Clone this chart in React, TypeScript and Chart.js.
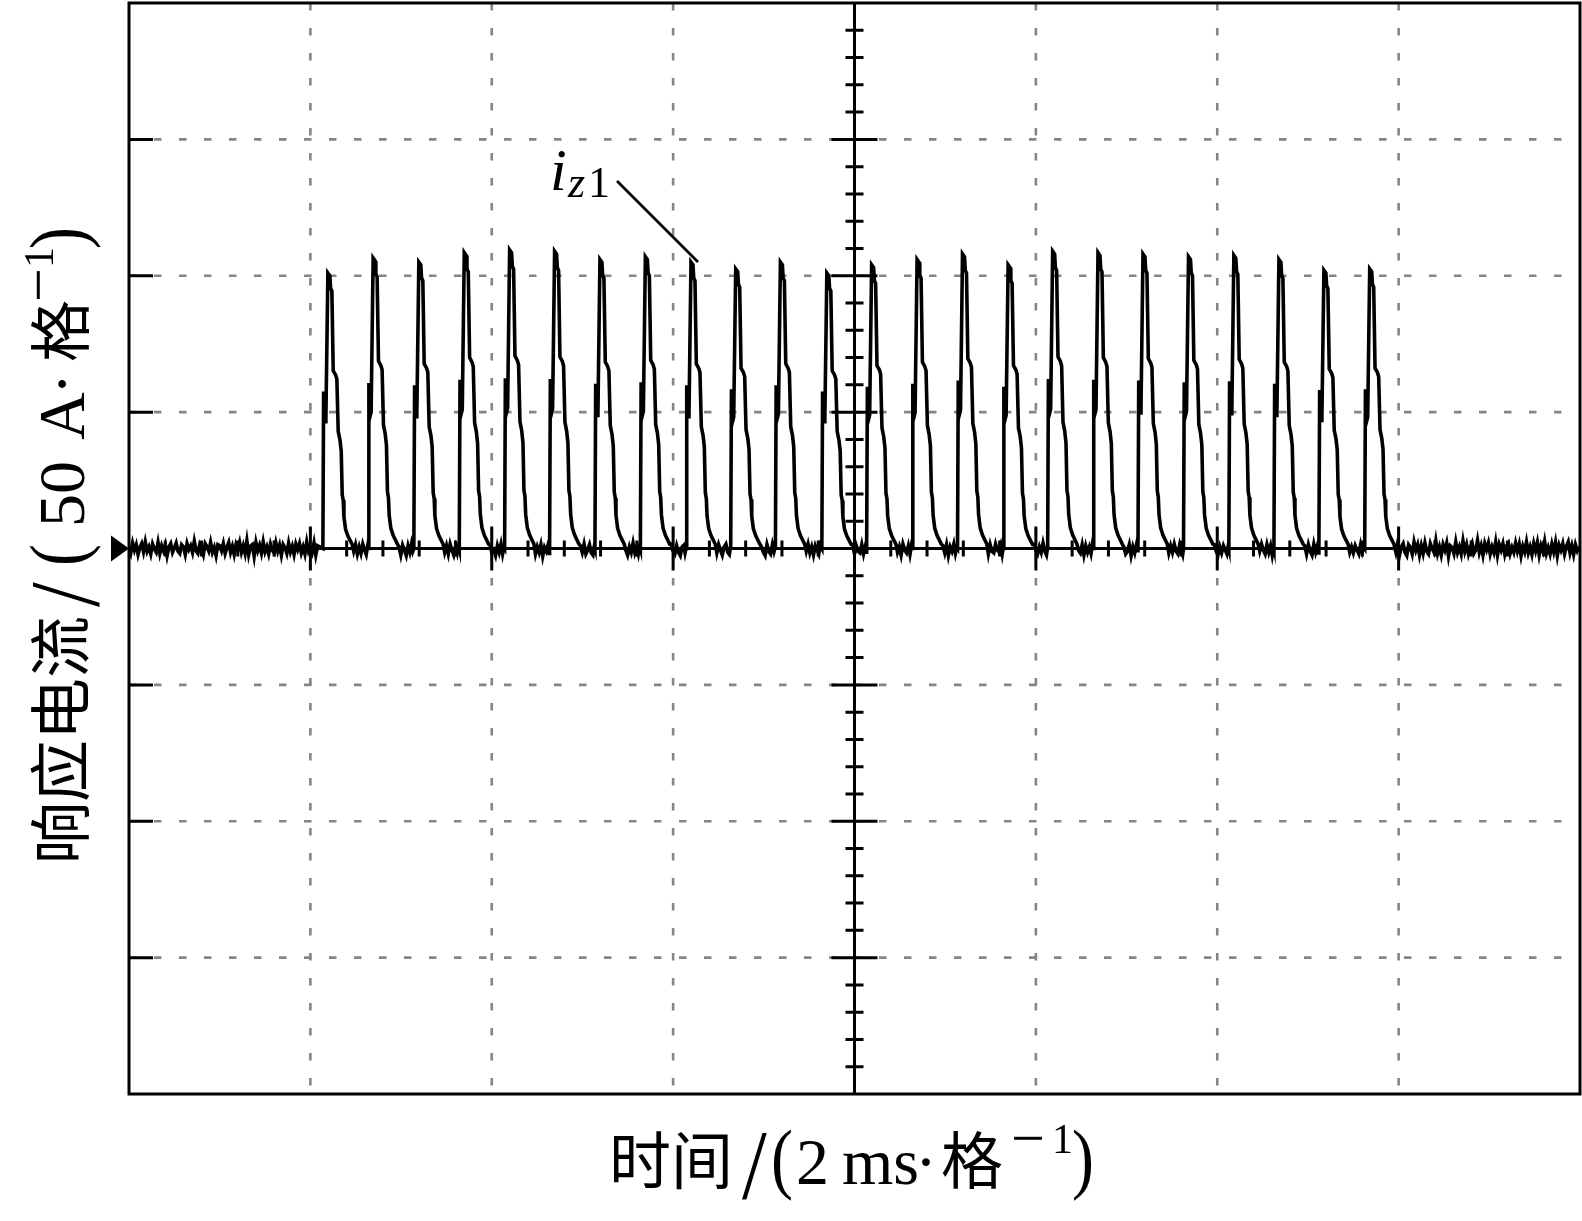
import React, { useEffect, useRef } from "react";
import { Chart, registerables } from "chart.js";

Chart.register(...registerables);

// ---- axis ranges (time in ms, current in A; 2 ms/div, 50 A/div) ----
const X_MIN = 0;
const X_MAX = 16;
const Y_MIN = -200;
const Y_MAX = 200;
const xGridMs = [2, 4, 6, 8, 10, 12, 14];
const yGridA = [-150, -100, -50, 50, 100, 150];

// ---- pulse train ----
const pulseStarts = [
  2.138, 2.637, 3.141, 3.642, 4.142, 4.638, 5.138, 5.639, 6.142, 6.635, 7.128, 7.64,
  8.134, 8.635, 9.136, 9.639, 10.13, 10.63, 11.126, 11.628, 12.128, 12.625, 13.121, 13.626,
];
const pulsePeaks = [
  101, 106.5, 105, 108.5, 109.5, 109, 106, 107, 105, 102.5, 105, 101,
  104, 106, 108, 104, 109, 108.5, 108, 107, 107.5, 106, 102, 102.5,
];
// shape of one pulse: time after rise (ms) and level as a fraction of its peak
const pulseDt = [
  0, 0.008, 0.014, 0.025, 0.033, 0.055, 0.077, 0.085, 0.099, 0.114, 0.14,
  0.154, 0.169, 0.188, 0.202, 0.213, 0.224, 0.232, 0.25, 0.276, 0.323,
];
const pulseLevel = [
  0, 0.57, 0.55, 0.46, 0.47, 1.0, 0.99, 0.945, 0.935, 0.645, 0.63,
  0.615, 0.425, 0.395, 0.355, 0.195, 0.175, 0.115, 0.07, 0.045, 0.015,
];
// baseline ripple between pulses (A), sampled at gapDt after each rise
const gapDt = [0.34, 0.36, 0.38, 0.4, 0.42, 0.44, 0.46, 0.478, 0.493];
const gapNoise = [
  [-1.0, 1.4, -2.0, 0.6, -1.8, 1.6, -0.6, -2.2, 0.8],
  [0.6, -2.4, 1.2, -0.6, -2.6, 1.0, -1.4, 1.6, -1.0],
  [-1.4, 1.0, -2.0, 1.6, -0.6, -2.4, 0.6, -1.6, 1.2],
  [1.2, -1.6, -0.6, -2.6, 1.0, -1.4, 1.6, -2.0, 0.4],
  [-2.0, 0.6, -1.4, 1.4, -2.8, 0.4, -1.0, 1.2, -1.8],
  [1.0, -1.4, 1.6, -2.0, -0.6, 1.4, -1.6, -2.4, 0.8],
  [-0.6, -2.4, 0.6, -1.4, 2.0, -1.6, 0.4, -2.0, 1.0],
  [1.6, -1.0, -2.0, 1.0, -1.4, -2.6, 0.6, 1.2, -1.6],
  [-1.6, 1.4, -0.6, -2.4, 0.6, 1.6, -1.4, -2.2, 0.8],
  [0.6, -1.4, -2.6, 1.4, -1.0, -2.0, 1.4, -1.2, 0.6],
  [-1.0, 1.6, -1.6, 0.6, -2.4, 1.0, -0.6, -2.0, 1.2],
  [1.4, -2.0, 1.0, -1.0, -1.6, 1.4, -2.0, 0.6, -1.4],
  [-1.4, 0.6, -2.4, 1.6, -0.6, -1.6, 1.0, -2.2, 0.8],
  [1.0, -1.6, 1.4, -2.6, 0.6, -1.0, 1.6, -1.8, 0.4],
  [-2.0, 1.4, -1.0, -1.6, 1.6, -0.6, -1.4, 1.0, -2.0],
  [1.6, -0.6, -2.0, 0.6, -1.4, 2.0, -1.0, -2.4, 1.0],
  [-0.6, -1.6, 1.4, -2.4, 1.0, -1.4, 0.6, -1.8, 1.4],
  [0.6, -2.0, -1.0, 1.4, -2.6, 0.6, -1.6, 1.2, -0.8],
  [-1.6, 1.0, -1.4, 1.6, -1.0, -2.0, 1.4, -0.6, -2.2],
  [1.4, -1.0, -2.4, 0.6, -1.6, 1.0, -0.6, -2.0, 1.0],
  [-1.0, 1.6, -0.6, -2.0, 1.4, -1.4, 1.0, -2.4, 0.6],
  [1.0, -2.0, 1.4, -1.0, -2.4, 1.6, -1.4, 0.8, -1.6],
  [-1.4, 0.6, -1.6, 1.0, -0.6, -2.0, 1.4, -1.2, 0.6],
];
// noisy baseline before and after the burst (A)
const noiseStep = 0.02;
const leftNoiseStart = 0;
const leftNoise = [
  0.8, -1.6, 2.0, -0.6, 1.4, -2.2, 0.4, 1.8, -1.2, 2.4, -1.0, 0.6, -2.0, 1.6, -0.2, -1.4, 2.2, -1.8,
  1.0, -0.8, 1.4, -2.6, 0.6, 1.8, -1.4, 0.2, 2.0, -1.0, -1.8, 1.4, 0.6, -2.2, 1.8, -0.4, 1.0, -1.4,
  2.6, -0.8, -1.8, 1.4, 0.0, -2.2, 1.8, 0.6, -1.0, 2.2, -1.4, 0.4, -2.6, 1.4, 1.0, -0.8, 1.8, -1.8,
  0.4, 2.2, -1.4, 0.8, -2.2, 1.4, -0.4, 2.2, -1.4, 1.0, -1.8, 2.8, -2.2, 0.8, 1.4, -2.8, 2.2, -0.8,
  1.2, -1.6, 2.4, -1.2, 0.6, -2.0, 1.6, -0.6, -1.6, 2.0, -1.0, 1.2, -2.4, 1.4, 0.2, -1.8, 2.0, -1.2,
  0.8, -2.2, 1.6, -0.4, 1.8, -1.6, 0.6, -2.0, 2.4, -1.0, 0.4, -1.4, 2.0, -2.4, 1.0,
];
const rightNoiseStart = 13.97;
const rightNoise = [
  -1.4, 2.0, -2.4, 0.6, 1.8, -1.4, -2.6, 1.4, 0.4, -2.0, 2.4, -0.6, 1.4, -2.4, 1.0, -1.8, 2.0, -1.0,
  -2.0, 1.8, 0.0, -1.4, 2.8, -1.8, 0.6, -2.4, 1.4, -0.6, 2.0, -2.8, 1.0, 0.4, -1.8, 2.4, -1.4, 0.6,
  -2.0, 2.8, -1.0, 1.4, -2.0, 0.4, 2.0, -1.8, -0.6, 3.0, -1.4, 1.0, -2.4, 1.8, -0.4, 2.0, -2.0, 0.6,
  -1.4, 2.4, -2.4, 1.4, -0.6, 1.8, -2.0, 1.0, 2.0, -1.8, 0.4, -1.4, 2.0, -1.0, 1.6, -2.6, 0.8, -1.2,
  2.4, -1.6, 0.6, -2.2, 1.8, -0.8, 2.2, -2.4, 1.0, -1.0, 2.6, -1.8, 0.4, -2.0, 1.6, -1.2, 2.2, -2.6,
  1.2, -0.6, 1.8, -2.0, 0.8, 2.4, -1.6, 1.0, -2.2, 1.4, -0.8, 0.6,
];

const SERIF = '"Liberation Serif", "DejaVu Serif", serif';
const CJK = '"Noto Sans CJK SC", sans-serif';

function buildTrace() {
  const pts: { x: number; y: number }[] = [];
  leftNoise.forEach((v, i) => pts.push({ x: leftNoiseStart + i * noiseStep, y: v }));
  pulseStarts.forEach((t0, p) => {
    pulseDt.forEach((dt, j) => pts.push({ x: t0 + dt, y: pulsePeaks[p] * pulseLevel[j] }));
    if (p < gapNoise.length) gapNoise[p].forEach((v, j) => pts.push({ x: t0 + gapDt[j], y: v }));
  });
  rightNoise.forEach((v, i) => pts.push({ x: rightNoiseStart + i * noiseStep, y: v }));
  return pts;
}

// horizontal text piece, optional stretch
function txt(ctx: CanvasRenderingContext2D, s: string, font: string, x: number, y: number, sx = 1, sy = 1) {
  ctx.save();
  ctx.translate(x, y);
  ctx.scale(sx, sy);
  ctx.font = font;
  ctx.fillText(s, 0, 0);
  ctx.restore();
}

// text piece rotated to read bottom-to-top; bx = baseline x, sy0 = screen y where it starts
function vtxt(ctx: CanvasRenderingContext2D, s: string, font: string, bx: number, sy0: number, sx = 1, sy = 1) {
  ctx.save();
  ctx.translate(bx, sy0);
  ctx.rotate(-Math.PI / 2);
  ctx.scale(sx, sy);
  ctx.font = font;
  ctx.fillText(s, 0, 0);
  ctx.restore();
}

const scopePlugin = {
  id: "scope",
  beforeDatasetsDraw(chart: any) {
    const { ctx, chartArea: a, scales } = chart;
    const x = scales.x;
    const y = scales.y;
    ctx.save();
    // dashed grid
    ctx.strokeStyle = "#858585";
    ctx.lineWidth = 2.6;
    ctx.setLineDash([7.5, 17.5]);
    for (const v of xGridMs) {
      if (v === 8) continue;
      const px = x.getPixelForValue(v);
      ctx.beginPath();
      ctx.moveTo(px, a.top);
      ctx.lineTo(px, a.bottom);
      ctx.stroke();
    }
    for (const v of yGridA) {
      const py = y.getPixelForValue(v);
      ctx.beginPath();
      ctx.moveTo(a.left, py);
      ctx.lineTo(a.right, py);
      ctx.stroke();
    }
    ctx.setLineDash([]);
    // center axes
    ctx.strokeStyle = "#000";
    ctx.lineWidth = 3;
    const cx = x.getPixelForValue(8);
    const cy = y.getPixelForValue(0);
    ctx.beginPath();
    ctx.moveTo(cx, a.top);
    ctx.lineTo(cx, a.bottom);
    ctx.moveTo(a.left, cy);
    ctx.lineTo(a.right, cy);
    ctx.stroke();
    ctx.beginPath();
    for (let k = -19; k <= 19; k++) {
      if (k === 0) continue;
      const py = y.getPixelForValue(k * 10);
      const len = k % 5 === 0 ? 23 : 9;
      ctx.moveTo(cx - len, py);
      ctx.lineTo(cx + len, py);
    }
    for (let k = 1; k < 40; k++) {
      if (k === 20) continue;
      const px = x.getPixelForValue(k * 0.4);
      const len = k % 5 === 0 ? 22 : 8;
      ctx.moveTo(px, cy - len);
      ctx.lineTo(px, cy + len);
    }
    // left frame ticks
    for (const v of yGridA) {
      const py = y.getPixelForValue(v);
      ctx.moveTo(a.left, py);
      ctx.lineTo(a.left + 24, py);
    }
    ctx.stroke();
    ctx.restore();
  },
  afterDatasetsDraw(chart: any) {
    const { ctx, chartArea: a, scales } = chart;
    const y = scales.y;
    ctx.save();
    ctx.strokeStyle = "#000";
    ctx.lineWidth = 3;
    ctx.strokeRect(a.left, a.top, a.right - a.left, a.bottom - a.top);
    // ground marker
    const cy = y.getPixelForValue(0);
    ctx.fillStyle = "#000";
    ctx.beginPath();
    ctx.moveTo(a.left - 18, cy - 13);
    ctx.lineTo(a.left - 18, cy + 13);
    ctx.lineTo(a.left, cy);
    ctx.closePath();
    ctx.fill();
    // trace label and leader
    ctx.textAlign = "left";
    ctx.textBaseline = "alphabetic";
    txt(ctx, "i", `italic 60px ${SERIF}`, 550, 190);
    txt(ctx, "z", `italic 44px ${SERIF}`, 568, 197);
    txt(ctx, "1", `44px ${SERIF}`, 588, 197);
    ctx.lineWidth = 2.6;
    ctx.beginPath();
    ctx.moveTo(617, 181);
    ctx.lineTo(698, 262);
    ctx.stroke();
    // x title
    const by = 1184;
    txt(ctx, "时间", `62px ${CJK}`, 609, by);
    txt(ctx, "/", `66px ${SERIF}`, 742, by + 14, 1.35, 1.5);
    txt(ctx, "(", `66px ${SERIF}`, 771, by, 1, 1.2);
    txt(ctx, "2", `66px ${SERIF}`, 796, by);
    txt(ctx, "ms", `66px ${SERIF}`, 842, by);
    txt(ctx, "·", `66px ${SERIF}`, 915, by);
    txt(ctx, "格", `62px ${CJK}`, 941, by);
    txt(ctx, "−", `60px ${SERIF}`, 1011, by - 26);
    txt(ctx, "1", `42px ${SERIF}`, 1052, by - 31);
    txt(ctx, ")", `66px ${SERIF}`, 1072, by, 1, 1.2);
    // y title (rotated)
    const bx = 84;
    vtxt(ctx, "响应电流", `62px ${CJK}`, bx, 864);
    vtxt(ctx, "/", `66px ${SERIF}`, bx + 14, 607, 1.35, 1.5);
    vtxt(ctx, "(", `66px ${SERIF}`, bx, 566, 1, 1.2);
    vtxt(ctx, "50", `66px ${SERIF}`, bx, 527);
    vtxt(ctx, "A", `66px ${SERIF}`, bx, 440);
    vtxt(ctx, "·", `66px ${SERIF}`, bx, 395);
    vtxt(ctx, "格", `62px ${CJK}`, bx, 362);
    vtxt(ctx, "−", `60px ${SERIF}`, bx - 26, 302);
    vtxt(ctx, "1", `42px ${SERIF}`, bx - 31, 268);
    vtxt(ctx, ")", `66px ${SERIF}`, bx, 249, 1, 1.2);
    ctx.restore();
  },
};

export default function App() {
  const ref = useRef<HTMLCanvasElement>(null);
  useEffect(() => {
    const chart = new Chart(ref.current as HTMLCanvasElement, {
      type: "line",
      data: {
        datasets: [
          {
            data: buildTrace(),
            borderColor: "#000",
            borderWidth: 3.6,
            pointRadius: 0,
            tension: 0,
            fill: false,
          },
        ],
      },
      options: {
        responsive: false,
        devicePixelRatio: 1,
        animation: false,
        events: [],
        layout: { padding: { left: 129, right: 2, top: 3, bottom: 127 } },
        plugins: { legend: { display: false }, tooltip: { enabled: false } },
        scales: {
          x: { type: "linear", min: X_MIN, max: X_MAX, display: false },
          y: { type: "linear", min: Y_MIN, max: Y_MAX, display: false },
        },
      },
      plugins: [scopePlugin],
    });
    return () => chart.destroy();
  }, []);
  return (
    <div style={{ position: "absolute", left: 0, top: 0, width: 1582, height: 1221, background: "#fff" }}>
      <canvas ref={ref} width={1582} height={1221} style={{ display: "block", width: 1582, height: 1221 }} />
    </div>
  );
}
